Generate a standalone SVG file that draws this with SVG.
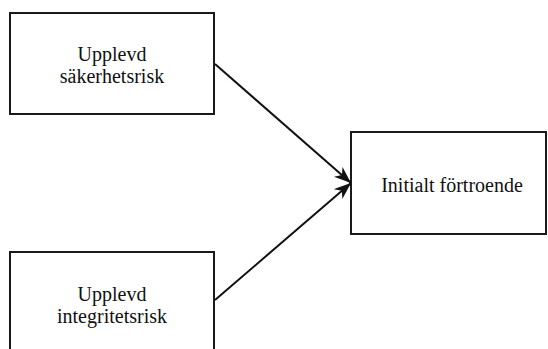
<svg xmlns="http://www.w3.org/2000/svg" width="548" height="349" viewBox="0 0 548 349">
<defs>
<style>
.box{fill:#fff;stroke:#1a1a1a;stroke-width:2}
.lbl{font-family:"Liberation Serif","Times New Roman",serif;font-size:20px;fill:#111;text-anchor:middle}
.edge{stroke:#111;stroke-width:2;fill:none}
</style>
<marker id="arr" viewBox="0 0 17 13" refX="17" refY="6.5" markerWidth="17" markerHeight="13" markerUnits="userSpaceOnUse" orient="auto">
<path d="M0,0 L17,6.5 L0,13 L5,6.5 Z" fill="#111"/>
</marker>
</defs>
<rect width="548" height="349" fill="#fff"/>
<g id="n1">
<rect class="box" x="10" y="13" width="204" height="101"/>
<text class="lbl" x="112" y="61">Upplevd</text>
<text class="lbl" x="112" y="83">säkerhetsrisk</text>
</g>
<g id="n2">
<rect class="box" x="10" y="252" width="204" height="110"/>
<text class="lbl" x="112" y="301">Upplevd</text>
<text class="lbl" x="112" y="323">integritetsrisk</text>
</g>
<g id="n3">
<rect class="box" x="351" y="132" width="195" height="102"/>
<text class="lbl" x="452" y="192">Initialt förtroende</text>
</g>
<g id="edges">
<line class="edge" x1="215" y1="64" x2="351" y2="183" marker-end="url(#arr)"/>
<line class="edge" x1="215" y1="300" x2="351" y2="183" marker-end="url(#arr)"/>
</g>
</svg>
